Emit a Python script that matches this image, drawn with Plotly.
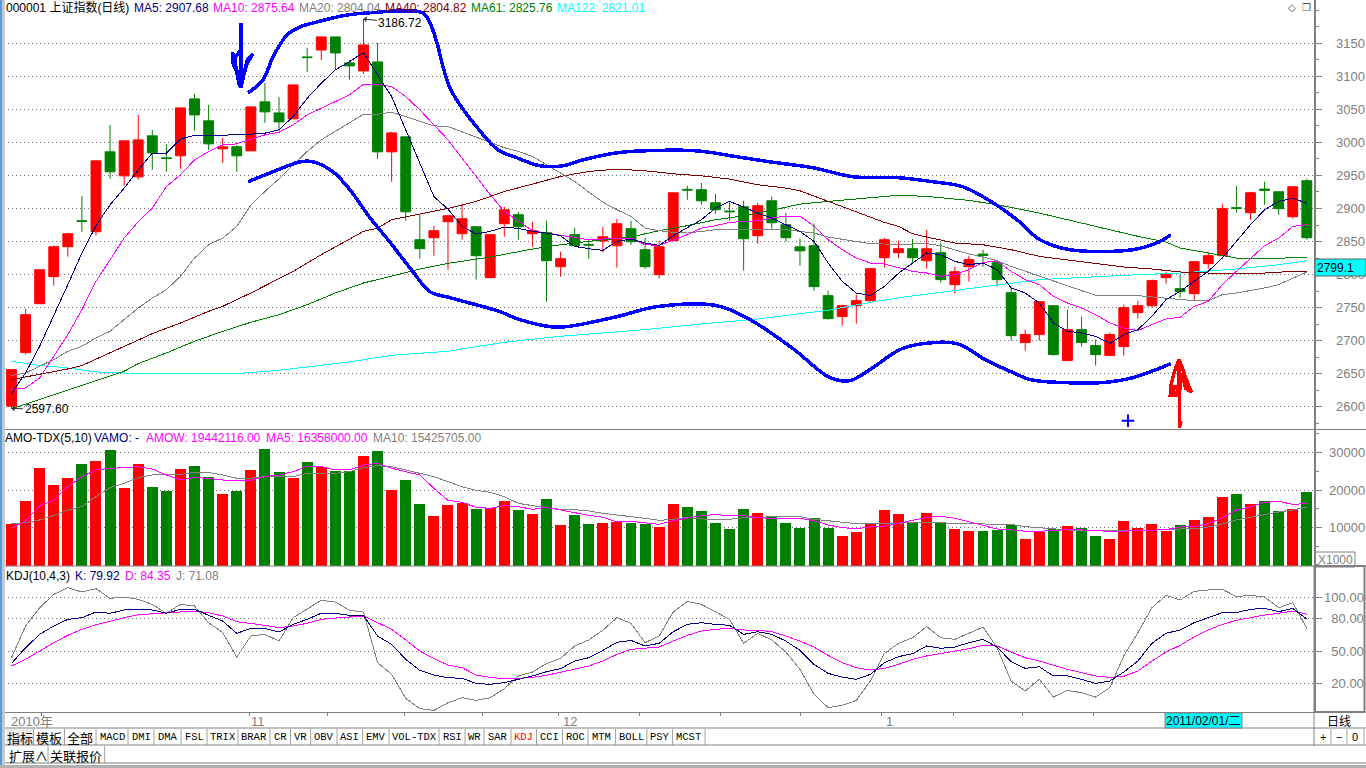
import plotly.graph_objects as go

OPEN = [2601,2682,2756,2796.9,2842.2,2881.5,2864.8,2985.7,2949.4,2947.9,3009.9,2976.6,2979.7,3065.8,3032.6,2990.3,2993.3,2987.2,3061.3,3044.6,3035.6,3129.3,3139.8,3159.5,3120.2,3108.1,3121.7,2985.7,3008.4,2852.8,2855.8,2880,2861.9,2872.4,2795.4,2877,2890.6,2861.9,2863.4,2812,2860.4,2845.7,2850.8,2843.7,2869.4,2837.7,2799.9,2851.3,2928.9,2928.4,2908.7,2896.1,2902.7,2858.8,2911.7,2875.5,2842,2843.7,2768.2,2736.4,2753,2760.6,2825.6,2833.2,2839.2,2821.1,2833.2,2784.8,2812,2831,2818.1,2772.7,2697.2,2709.3,2753,2670,2716.8,2692.6,2677.5,2691.1,2742.5,2753,2795.4,2778.8,2771.2,2816.6,2828.6,2901.2,2893.6,2929.4,2925.3,2887.6,2942]
HIGH = [2656.3,2748.5,2807.4,2843.7,2863.4,2919,2972.1,3026.5,3002.3,3041.6,3019,2997.8,3052.2,3073.4,3056.7,3006.9,2996.3,3053.7,3090,3068.8,3087,3142.9,3161,3159.5,3124.7,3186.72,3150.4,3016,3008.4,2890.5,2873.9,2889,2907.2,2872.4,2860.4,2902.7,2895.1,2880,2881.5,2834.7,2870.9,2852.8,2872.4,2884.5,2881.5,2855.8,2851.3,2923.8,2934.4,2938.9,2922.3,2910.2,2911.7,2908.7,2917.8,2893.6,2854.3,2877,2775.7,2754.6,2769.7,2809,2855.8,2851.3,2854.3,2867.9,2848.3,2812,2828.6,2837.7,2822,2781.8,2716.8,2759.1,2753,2747,2736.4,2701.7,2712.3,2754.6,2760.6,2792.4,2804.4,2799.9,2819.6,2834.7,2907.2,2934.4,2925.3,2940.5,2925.3,2932.9,2945]
LOW = [2597.6,2679,2756,2783.3,2827.1,2864.8,2858.8,2944.9,2934.3,2943.4,2958.5,2955.5,2960,3017.4,2988.7,2969.1,2955.5,2987.2,3029.5,3017.4,3035.6,3106.6,3124.7,3111.1,3094.5,3103.6,2975.1,2940.4,2881.4,2824,2828.6,2807.4,2852.8,2792.4,2795.4,2857.3,2852.8,2842.2,2759.1,2796.9,2842.2,2824.1,2833.2,2810.5,2845.2,2809,2793.9,2851.3,2913.2,2905.7,2892.1,2881.5,2806,2846.7,2869.4,2849.8,2813.5,2775.7,2731.9,2722.8,2725.9,2759,2810.5,2825.6,2816.6,2809,2787.8,2771.2,2789.3,2812,2781.8,2700.2,2685.1,2700.2,2677.5,2670,2691.1,2662.4,2677.5,2677.5,2733.4,2750,2786.3,2765.2,2760.6,2809,2828.6,2893.6,2883,2905.7,2890.6,2884.5,2852.8]
CLOSE = [2656.3,2739.4,2807.4,2842.2,2861.8,2880.5,2972.1,2955.5,3002.3,3003.8,2984.2,2975.6,3052.2,3041.6,2997.8,2993.3,2979.7,3053.7,3046.2,3031,3087,3128.3,3159.5,3135.3,3115.7,3147.4,2985.7,3014.4,2895,2839.2,2866.4,2889,2884.5,2828.6,2860.4,2898.1,2872.4,2866.4,2821.1,2824.1,2843.7,2844.7,2857.3,2877,2849.8,2812,2842.2,2923.8,2927.9,2911.7,2898.1,2895.1,2854.3,2904.2,2878.5,2855.8,2836,2781.8,2733.4,2753,2760.6,2809,2852.8,2839.2,2825.6,2839.2,2792.4,2804.4,2822.6,2829,2792.4,2707.7,2709.3,2759.1,2679,2716.8,2697.2,2679,2709.3,2750,2753,2790.9,2799.9,2774.2,2819.6,2828.6,2899.7,2900.2,2923.8,2927.4,2899.7,2932.9,2855.8]

MA5 = [2620,2651.3,2691.6,2736.9,2784.8,2832.6,2873.9,2905.6,2930.8,2958.5,2983.7,2983.7,3004.9,3010.9,3009.9,3010.9,3011.4,3012.4,3014,3019,3039.1,3066.8,3089.5,3109.6,3122.2,3135.8,3102.1,3069.3,3019,2968.6,2918.2,2899,2873,2861.4,2865.4,2871.9,2869.9,2865.4,2862.9,2858.8,2842.7,2839.2,2836.7,2850.3,2853.8,2847.8,2844.2,2858.8,2870.4,2883,2900.7,2910.7,2902.2,2893.1,2885.5,2875.5,2865.4,2850.3,2817.5,2789.8,2772.2,2768.2,2782.3,2802,2817.6,2832.7,2830.1,2820,2815,2817.6,2807.5,2779.8,2772.2,2757.1,2726.9,2714.3,2711.8,2706.7,2695.7,2709.3,2716.8,2736.9,2762.1,2774.7,2789.8,2805,2825.1,2850.3,2875.5,2898.1,2910.7,2915.8,2907.68]
MA10 = [2626.1,2628.6,2643.7,2676.5,2709.2,2747,2789.8,2822.5,2855.3,2880,2900.6,2933.3,2951,2973.6,2986.2,2996.3,2997.8,3004.9,3011.4,3015.4,3026.5,3041.6,3051.7,3061.8,3071.8,3088,3088,3084.4,3069.3,3049.2,3026.5,3003.8,2976.2,2948.5,2920.8,2895.6,2880.5,2866.4,2862.9,2859.3,2856.8,2852.8,2853.8,2855.3,2855.3,2845.2,2844.2,2852.8,2860.4,2870.4,2874,2879,2880.5,2881.5,2885.5,2888.6,2888.6,2873,2852.8,2837.7,2825.1,2817.5,2816,2810,2805,2802.4,2797.4,2799.9,2807.5,2818.6,2820.1,2805,2792.4,2784.8,2767.2,2757.1,2749.5,2739.5,2726.9,2719.3,2715.3,2724.4,2732.9,2735.4,2752.1,2759.6,2784.8,2805,2825.1,2843.7,2855.3,2872.9,2875.64]
MA20 = [2647.3,2651.3,2661.4,2671.4,2684,2691.6,2704.2,2714.3,2731.9,2749.5,2764.6,2777.2,2797.4,2825,2845.2,2855.3,2872.9,2905,2925.8,2945,2966,2986.2,3003.8,3016.4,3029,3042.6,3042.6,3045.7,3039.1,3031.5,3025,3024,3016.4,3008,3000,2992,2986.3,2978.7,2966.1,2953.5,2941,2924.8,2909.7,2898.1,2888,2870.4,2866.4,2863.9,2862.9,2865.4,2867.9,2867.9,2867.9,2868.9,2868.9,2867.9,2865.4,2862.9,2856.8,2853.8,2850.8,2846.8,2846.3,2845.2,2846.3,2846.8,2843.7,2837.7,2831.2,2826.6,2821.1,2812.5,2805,2797.4,2789.8,2782.3,2775.7,2768.7,2768.2,2768.2,2768.2,2766.2,2764.7,2762.1,2760.6,2760.6,2769.7,2772.2,2775.7,2779.8,2784.8,2794.9,2804.04]
MA40_X = [0,2,4,5,7,8,10,12,14,15,17,20,22,25,26,27,29,31,33,35,37,39,41,43,45,47,49,51,53,55,56,58,60,62,63,64,65,67,69,71,73,75,77,79,81,83,85,87,89,91,92]
MA40 = [2641.2,2648.8,2657.3,2662.4,2681.5,2691.6,2710.7,2726.8,2744.5,2752,2772.2,2804.9,2830.1,2865.4,2870.4,2883,2892,2900,2910.7,2925.8,2936.9,2948.5,2956,2959.6,2957.1,2952.5,2949.5,2944.5,2935.9,2930.9,2926.8,2910.7,2895.6,2879,2873,2861.9,2856.8,2847.8,2845.2,2837.7,2827.6,2822.6,2817.6,2811.5,2808.5,2804,2802.4,2802.4,2802.4,2804.9,2804.82]
MA61_X = [0,2,4,6,8,9,11,13,15,17,19,21,23,25,27,29,31,34,37,39,41,44,46,48,50,52,54,56,58,61,63,65,68,70,73,75,78,80,82,83,85,87,88,91,92]
MA61 = [2596.9,2611,2625.1,2638.7,2653.8,2665.4,2681.5,2699.1,2714.2,2727.9,2739.4,2754.5,2772.2,2787.3,2797.4,2808.4,2817,2826.6,2838.7,2845.2,2850.3,2856.8,2866.4,2874,2883,2889,2897.1,2906.7,2910.7,2915.8,2920,2918.3,2912.3,2905.7,2893.1,2883,2867.9,2857.9,2849.3,2840.2,2832.7,2825.1,2824.1,2826.1,2825.76]
MA122_X = [0,2,4,6,9,16,19,24,27,31,32,35,39,45,49,53,58,61,63,67,70,73,79,83,87,90,92]
MA122 = [2668.9,2662.4,2658.8,2652.8,2650.3,2650.3,2655.3,2667.9,2678,2684,2687.6,2697.7,2706.7,2716.8,2725.4,2732.9,2746,2758.1,2765,2775.7,2784.8,2792.4,2798.9,2802.4,2808.5,2815,2821.01]

UPPER_X = [16.8,17.86,18.57,19.57,20.49,21.7,23.83,25.25,29.22,29.72,30.22,30.65,31.14,31.85,32.92,34.55,35.9,37.54,39.17,40.59,43,44.85,48.69,51.53,53.87,56.92,59.77,63.1,65.45,67.58,69.71,71.41,73.05,75.18,79.65,81.36,82.35]
UPPER_P = [3074.9,3094.5,3129.3,3162.5,3174.6,3182.2,3192.7,3195.8,3195.8,3180.6,3150.4,3114.2,3082.4,3056.8,3026.5,2988.8,2976.7,2964.6,2964.6,2973.6,2984.2,2987.2,2987.2,2978.2,2970.6,2961.6,2948,2946.4,2940.4,2932.8,2908.7,2883,2852.8,2837.7,2837.7,2848.2,2860.3]
LOWER_X = [16.8,18.57,20.49,21.41,22.83,24.04,25.46,26.74,28.51,29.72,31.14,34.69,35.9,38.24,39.45,43,45.84,50.11,52.45,55.5,58.13,59.55,60.97,63.1,64.74,67.15,69.28,71.13,72.34,74.68,77.52,79.65,82.35]
LOWER_P = [2940.4,2955.5,2970.6,2970.6,2955.5,2928.3,2886,2852.8,2804.4,2774.2,2765.1,2744,2733.4,2721.3,2721.3,2736.4,2751.5,2753,2731.9,2688.1,2644.2,2639.7,2656.3,2686.5,2695.6,2695.6,2669.9,2651.8,2641.2,2636.7,2636.7,2644.2,2665.4]
BLUE_ARROW_X = [16.3,16.3,15.7,15.75,16.1,16.3,16.5,16.75,17.15,16.75,16.45,16.2,15.95,15.85,16.3]
BLUE_ARROW_P = [3180.6,3082.4,3136,3118,3103,3082.4,3103,3120,3134,3125,3100,3085,3110,3128,3140]
RED_ARROW_X = [82.92,82.92,82.3,82.35,82.55,82.92,83.3,83.6,83.84,83.4,83.1,82.95,82.65,82.5,82.95,82.95,83.08,82.95,82.92]
RED_ARROW_P = [2672,2618,2618,2632,2650,2672,2650,2632,2622,2628,2650,2620,2632,2622,2620,2572,2578,2568,2568]
PLUS_X = [79.3]
PLUS_P = [2579]

VOLUME = [10917,17065,25886,21342,23213,26955,27757,30697,20540,26955,20807,19738,25619,26421,23480,18936,19738,25351,30965,24817,23213,27490,26153,25084,25084,29094,30430,20005,22679,16263,13056,15996,16527,14923,15191,17062,14656,13587,17596,10646,13320,10914,11181,11448,11181,10914,10112,16260,15458,14389,11181,9577,14923,13854,12963,11181,9845,12518,9845,7706,8776,10914,14656,13587,11450,13860,11180,9580,9040,9040,9310,10650,6900,8780,9580,10380,9840,7710,6900,11720,9840,10910,9040,10650,11980,12780,18130,18930,16260,17060,14390,14920,19470]
VOL_MA5 = [9848,11719,15729,17333,20897,23570,25352,25797,25975,26243,25619,24015,22679,23302,23124,22679,22590,22590,23570,24015,24906,26332,26243,25352,25352,26688,27134,25797,24906,24015,20451,17240,16705,15369,15102,15814,15547,14834,15369,14656,13765,13231,12696,11448,11626,11181,10824,11804,12518,13142,13409,13142,13142,12607,12429,12429,12429,11804,10646,9934,9666,10112,10290,11092,11805,12696,12963,12429,11537,10468,9577,9399,8954,8954,9220,9399,9310,9220,8865,9043,9132,9310,9399,10112,10201,11003,12607,14656,15547,16705,16973,16171,16358]
VOL_MA10 = [10917,11274,11986,13145,14659,15550,18223,20629,21788,23302,24015,24015,24193,24728,24728,24015,23124,23124,23570,23570,23570,24461,24461,24461,24906,25975,26510,26243,25352,24461,23570,22233,20893,19913,19378,18220,16438,15814,15280,14834,14745,14389,13765,13409,12874,12429,11894,12161,12696,12251,12161,12161,12607,12607,12874,12874,12874,12161,11805,11359,11003,11003,11003,11092,11359,11359,11270,11003,11003,11003,11003,10825,10201,9934,9755,9488,9043,9043,9043,9220,9220,9220,9488,9488,9666,10112,10914,11984,12696,13498,14121,14656,15426]

KDJ_K = [38.5,53.1,65.5,73.3,79.5,81,86.3,85.1,88.2,88.8,88.2,85.1,88.8,88.8,83.2,77.9,66.5,71.1,71.1,67.7,74.8,79.5,85.1,85.1,83.2,83.2,64,56.2,42.3,32,27.7,25.2,24.6,19.9,19,20.6,23.7,26.8,30.8,33.6,40.7,43.8,50.6,58.1,59.9,54.7,57.2,68,74.8,76.4,74.8,73.9,65.5,68,65.5,59.3,50.6,37.6,29.2,25.8,23.7,28.3,39.2,44.8,47.5,54.7,52.5,53.7,57.8,60.9,53.7,40.1,33.9,35.4,26.8,26.8,23.7,19.9,22.1,30.5,40.7,57.2,66.5,69.6,76.4,81,85.7,85.7,88.8,89.7,86.6,89.7,79.92]
KDJ_D = [36.1,42.3,50,57.8,64.6,70.2,74.5,77.9,81,83.8,84.8,85.1,86.3,87.2,85.7,82.6,77.3,75.8,73.9,71.7,73.3,75.8,79.5,80.7,81.7,82.6,76.4,70.2,60.3,50,42.9,37,34.5,27.7,25.5,24.3,24.6,25.5,27.4,30.5,33,36.1,40.7,46.9,51.6,52.8,53.7,59.3,64.6,68.6,70.2,71.1,69.6,69.3,68,64,59.3,53.7,46,39.2,34.5,32.3,33.9,37.6,42.3,45.4,47.5,49.7,52.2,55.3,54.7,49.1,43.8,40.7,36.7,33,29.9,26.8,25.5,26.5,31.4,40.7,49.1,55.3,63.1,69.6,74.8,78.6,81,83.5,85.1,87.2,84.35]
KDJ_J = [43.8,73.3,90.3,102.7,108.9,104.9,108,99,100.3,98.1,93.4,85.1,93.4,91.9,76.4,67.1,44.4,64,65.5,59.3,81,88.8,97.2,95.6,87.9,86.3,39.2,28.3,6,-3.6,-5.2,1.9,6.6,4.1,6.6,15,26.8,30.5,38.2,43.2,54.7,60.3,69.3,81,75.8,57.8,64,86.3,96.2,93.4,86.6,79.5,57.2,66.5,60.3,49.1,33,9.7,-2.7,-0.5,4.1,22.1,47.8,57.2,62.4,72.7,62.4,60.9,66.5,72.4,53.1,22.1,12.8,23.7,7.2,13.4,11.3,7.2,15.9,45.4,67.1,90.3,101.8,97.5,105.5,106.8,107.4,100.6,101.8,100.3,90.3,95,71.08]

PRICE_TICKS = [3150,3100,3050,3000,2950,2900,2850,2800,2750,2700,2650,2600]
VOLUME_TICKS = [30000,20000,10000]
KDJ_TICKS = [100,80,50,20]
DATE_TICKS = [2.15,16.87,22.46,27.93,33.42,38.88,44.63,50.39,56.07,61.82,66.87,71.84,76.88]
MONTHS = ["2010年","11","12","1"]
MONTH_X = [-0.1,16.94,39.1,62.04]

TAB_LABELS = ["指标","模板","全部","MACD","DMI","DMA","FSL","TRIX","BRAR","CR","VR","OBV","ASI","EMV","VOL-TDX","RSI","WR","SAR","KDJ","CCI","ROC","MTM","BOLL","PSY","MCST"]
TAB_EDGES = [6,33.5,64.5,96,128,154,181,207,238,270,290.5,310.7,337,362.7,389,439,465,484,511,536.5,562.5,588,615.6,646.9,672.6,705]

W, H = 1366, 768
AXIS_X = 1314
GRAY = "#808080"
SANS = "Liberation Sans, Noto Sans CJK SC, sans-serif"
MONO = "Liberation Mono, monospace"
RED, GREEN, NAVY, MAG, DRED, CYAN = "#ff0000", "#008000", "#000080", "#ff00ff", "#800000", "#00ffff"
XR = [-0.817, 92.51]
VOL_FLOOR = -321


def px(x):
    return x / W


def py(y):
    return 1 - y / H


idx = list(range(len(OPEN)))
fig = go.Figure()
fig.add_trace(go.Candlestick(
    x=idx, open=OPEN, high=HIGH, low=LOW, close=CLOSE, xaxis="x", yaxis="y",
    increasing=dict(line=dict(color=RED, width=1), fillcolor=RED),
    decreasing=dict(line=dict(color=GREEN, width=1), fillcolor=GREEN),
    whiskerwidth=0, showlegend=False, hoverinfo="skip"))


def line(x, y, color, width=1, xa="x", ya="y", shape="linear"):
    fig.add_trace(go.Scatter(x=x, y=y, mode="lines", line=dict(color=color, width=width, shape=shape),
                             xaxis=xa, yaxis=ya, showlegend=False, hoverinfo="skip"))


line(MA122_X, MA122, CYAN, 1)
line(MA61_X, MA61, GREEN)
line(MA40_X, MA40, DRED)
line(idx, MA20, GRAY)
line(idx, MA10, MAG)
line(idx, MA5, NAVY)
line(UPPER_X, UPPER_P, "#0000ff", 3.5, shape="spline")
line(LOWER_X, LOWER_P, "#0000ff", 3.5, shape="spline")
line(BLUE_ARROW_X, BLUE_ARROW_P, "#0000ff", 3.5)
line(RED_ARROW_X, RED_ARROW_P, RED, 3.5)
fig.add_trace(go.Scatter(x=PLUS_X, y=PLUS_P, mode="markers", xaxis="x", yaxis="y", showlegend=False,
                         hoverinfo="skip",
                         marker=dict(symbol="cross-thin", size=9, line=dict(color="#0000ff", width=2))))

fig.add_trace(go.Bar(x=idx, y=[v - VOL_FLOOR for v in VOLUME], base=VOL_FLOOR, width=0.78,
                     marker=dict(color=[RED if c >= o else GREEN for o, c in zip(OPEN, CLOSE)], line=dict(width=0)),
                     xaxis="x2", yaxis="y2", showlegend=False, hoverinfo="skip"))
line(idx, VOL_MA10, GRAY, 1, "x2", "y2")
line(idx, VOL_MA5, MAG, 1, "x2", "y2")

line(idx, KDJ_J, GRAY, 1, "x3", "y3")
line(idx, KDJ_D, MAG, 1, "x3", "y3")
line(idx, KDJ_K, NAVY, 1, "x3", "y3")

anns = []


def label(x, y, text, color="black", size=12, anchor="left", family=SANS, **kw):
    anns.append(dict(x=px(x), y=py(y), xref="paper", yref="paper", text=text, showarrow=False,
                     xanchor=anchor, yanchor="middle", borderpad=0, borderwidth=0,
                     font=dict(family=family, size=size, color=color), **kw))


# title rows
for x, t, c in [(6, "000001 上证指数(日线)", "black"), (134, "MA5: 2907.68", NAVY), (213, "MA10: 2875.64", MAG),
                (299, "MA20: 2804.04", GRAY), (385, "MA40: 2804.82", DRED), (471, "MA61: 2825.76", GREEN),
                (557, "MA122: 2821.01", CYAN)]:
    label(x, 7.5, t, c)
for x, t, c in [(5, "AMO-TDX(5,10)", "black"), (94, "VAMO: -", NAVY), (146, "AMOW: 19442116.00", MAG),
                (266, "MA5: 16358000.00", MAG), (373, "MA10: 15425705.00", GRAY)]:
    label(x, 437.5, t, c)
for x, t, c in [(6, "KDJ(10,4,3)", "black"), (75, "K: 79.92", NAVY), (125, "D: 84.35", MAG), (176, "J: 71.08", GRAY)]:
    label(x, 576, t, c)
label(1292, 8, "◇", "#555555", 10, "center", "DejaVu Sans")
label(1306, 8, "❐", "#555555", 10, "center", "DejaVu Sans")

# extreme markers
anns.append(dict(x=25, y=3186.72, xref="x", yref="y", ax=37, ay=4, axref="pixel", ayref="pixel", text="3186.72",
                 showarrow=True, arrowhead=1, arrowsize=1, arrowwidth=1, arrowcolor="#333333", standoff=0,
                 font=dict(family=SANS, size=12, color="black")))
anns.append(dict(x=0, y=2597.6, xref="x", yref="y", ax=35, ay=1, axref="pixel", ayref="pixel", text="2597.60",
                 showarrow=True, arrowhead=1, arrowsize=1, arrowwidth=1, arrowcolor="#333333", standoff=0,
                 font=dict(family=SANS, size=12, color="black")))

# price tag, unit tag, date tag
label(1317, 267.5, "2799.1", "black", 12)
label(1335, 559.5, "X1000", GRAY, 12, "center")
label(1203.5, 720.5, "2011/02/01/二", "black", 12, "center")
label(1339, 720.5, "日线", "black", 12, "center", "Noto Sans CJK SC")
for x, t in [(1323, "+"), (1339, "−"), (1355, "0")]:
    label(x, 737, t, "black", 11, "center")

for t, x in zip(MONTHS, MONTH_X):
    anns.append(dict(x=x, y=py(721), xref="x3", yref="paper", text=t, showarrow=False, xanchor="left",
                     yanchor="middle", borderpad=0, font=dict(family=SANS, size=13, color=GRAY)))

# tab rows
shapes = []


def rule(x0, y0, x1, y1, color=GRAY, width=1):
    shapes.append(dict(type="line", xref="paper", yref="paper", x0=px(x0), y0=py(y0), x1=px(x1), y1=py(y1),
                       line=dict(color=color, width=width)))


for i, t in enumerate(TAB_LABELS):
    l, r = TAB_EDGES[i], TAB_EDGES[i + 1]
    cjk = i < 3
    label((l + r) / 2, 737, t, RED if t == "KDJ" else "black", 13 if cjk else 10.5, "center",
          "Noto Sans CJK SC" if cjk else MONO)
    rule(r, 729, r, 745, "#a0a0a0")
label(28, 755, "扩展∧", "black", 13, "center", "Noto Sans CJK SC")
label(76, 755, "关联报价", "black", 13, "center", "Noto Sans CJK SC")
rule(48, 746, 48, 763, "#a0a0a0")
rule(104.7, 746, 104.7, 763, "#a0a0a0")

# panel frame
rule(5, 429.5, W, 429.5, GRAY, 1)
rule(5, 566, W, 566, GRAY, 1)
rule(5, 728, W, 728, GRAY, 1)
rule(5, 745, W, 745, GRAY, 1)
rule(5, 763, W, 763, GRAY, 1)
rule(AXIS_X, 712, AXIS_X, 746, GRAY, 1)
for x in (1331, 1347, 1364):
    rule(x, 729, x, 745, "#a0a0a0")
shapes.append(dict(type="rect", xref="paper", yref="paper", x0=px(0), x1=px(2.5), y0=0, y1=1,
                   fillcolor="#5b9bd5", line=dict(width=0)))
shapes.append(dict(type="rect", xref="paper", yref="paper", x0=px(2.5), x1=px(5), y0=0, y1=1,
                   fillcolor="#c8c8c8", line=dict(width=0)))
shapes.append(dict(type="rect", xref="paper", yref="paper", x0=0, x1=1, y0=0, y1=py(765),
                   fillcolor="#b0b0b0", line=dict(width=0)))
shapes.append(dict(type="rect", xref="paper", yref="paper", x0=px(1314.5), x1=px(1364.5), y0=py(712), y1=py(566),
                   line=dict(color=GRAY, width=2)))
shapes.append(dict(type="rect", xref="paper", yref="paper", x0=px(1315), x1=px(1355), y0=py(567), y1=py(552),
                   line=dict(color=GRAY, width=1)))
shapes.append(dict(type="rect", xref="paper", yref="paper", x0=px(1315), x1=px(1366), y0=py(276), y1=py(259),
                   fillcolor=CYAN, line=dict(color="#606060", width=1)))
shapes.append(dict(type="rect", xref="paper", yref="paper", x0=px(1165), x1=px(1242), y0=py(728), y1=py(713),
                   fillcolor=CYAN, line=dict(color=GRAY, width=1)))
shapes.append(dict(type="rect", xref="paper", yref="paper", x0=px(6), x1=px(33.5), y0=py(745), y1=py(729),
                   fillcolor="#ececec", line=dict(width=0), layer="below"))

GRID = dict(showgrid=True, gridcolor="#707070", griddash="1px,3px", gridwidth=1, zeroline=False, side="right",
            showline=True, linecolor=GRAY, linewidth=1.5, ticks="outside", tickcolor=GRAY, ticklen=6,
            tickfont=dict(family=SANS, size=13, color=GRAY), fixedrange=True)
HIDDEN_X = dict(range=XR, domain=[0, AXIS_X / W], showgrid=False, zeroline=False, showticklabels=False,
                ticks="", fixedrange=True, rangeslider=dict(visible=False))

fig.update_layout(
    width=W, height=H, margin=dict(l=0, r=0, t=0, b=0, pad=0, autoexpand=False), autosize=False,
    paper_bgcolor="white", plot_bgcolor="white", showlegend=False, boxgap=0.3, boxgroupgap=0,
    bargap=0, hovermode=False, dragmode=False, annotations=anns, shapes=shapes,
    xaxis=dict(**HIDDEN_X, anchor="y"),
    xaxis2=dict(**HIDDEN_X, anchor="y2"),
    xaxis3=dict(range=XR, domain=[0, AXIS_X / W], anchor="y3", showgrid=False, zeroline=False, showline=True,
                linecolor=GRAY, linewidth=1, ticks="outside", ticklen=3, tickcolor=GRAY, tickvals=DATE_TICKS,
                showticklabels=False, fixedrange=True),
    yaxis=dict(**GRID, domain=[py(429.5), 1], range=[2565.7, 3215.4], anchor="x", tickvals=PRICE_TICKS,
               ticktext=[str(t) for t in PRICE_TICKS], ticklabelstandoff=12,
               minor=dict(dtick=25, ticks="outside", ticklen=3, tickcolor=GRAY, showgrid=False)),
    yaxis2=dict(**GRID, domain=[py(566), py(430)], range=[VOL_FLOOR, 36046], anchor="x2", tickvals=VOLUME_TICKS,
                ticktext=[str(t) for t in VOLUME_TICKS], ticklabelstandoff=5,
                minor=dict(dtick=5000, ticks="outside", ticklen=3, tickcolor=GRAY, showgrid=False)),
    yaxis3=dict(**GRID, domain=[py(712), py(566)], range=[-6.7, 129.1], anchor="x3", tickvals=KDJ_TICKS,
                ticktext=[("\u00a0\u00a0" if t < 100 else "") + f"{t}.00" for t in KDJ_TICKS], ticklabelstandoff=0),
)

fig.write_html("out.html", config=dict(displayModeBar=False, staticPlot=True),
               post_script="document.body.style.margin='0';document.documentElement.style.overflow='hidden';"
                           "var s=document.createElement('style');"
                           "s.textContent='.js-line{shape-rendering:crispEdges}';document.head.appendChild(s);")
